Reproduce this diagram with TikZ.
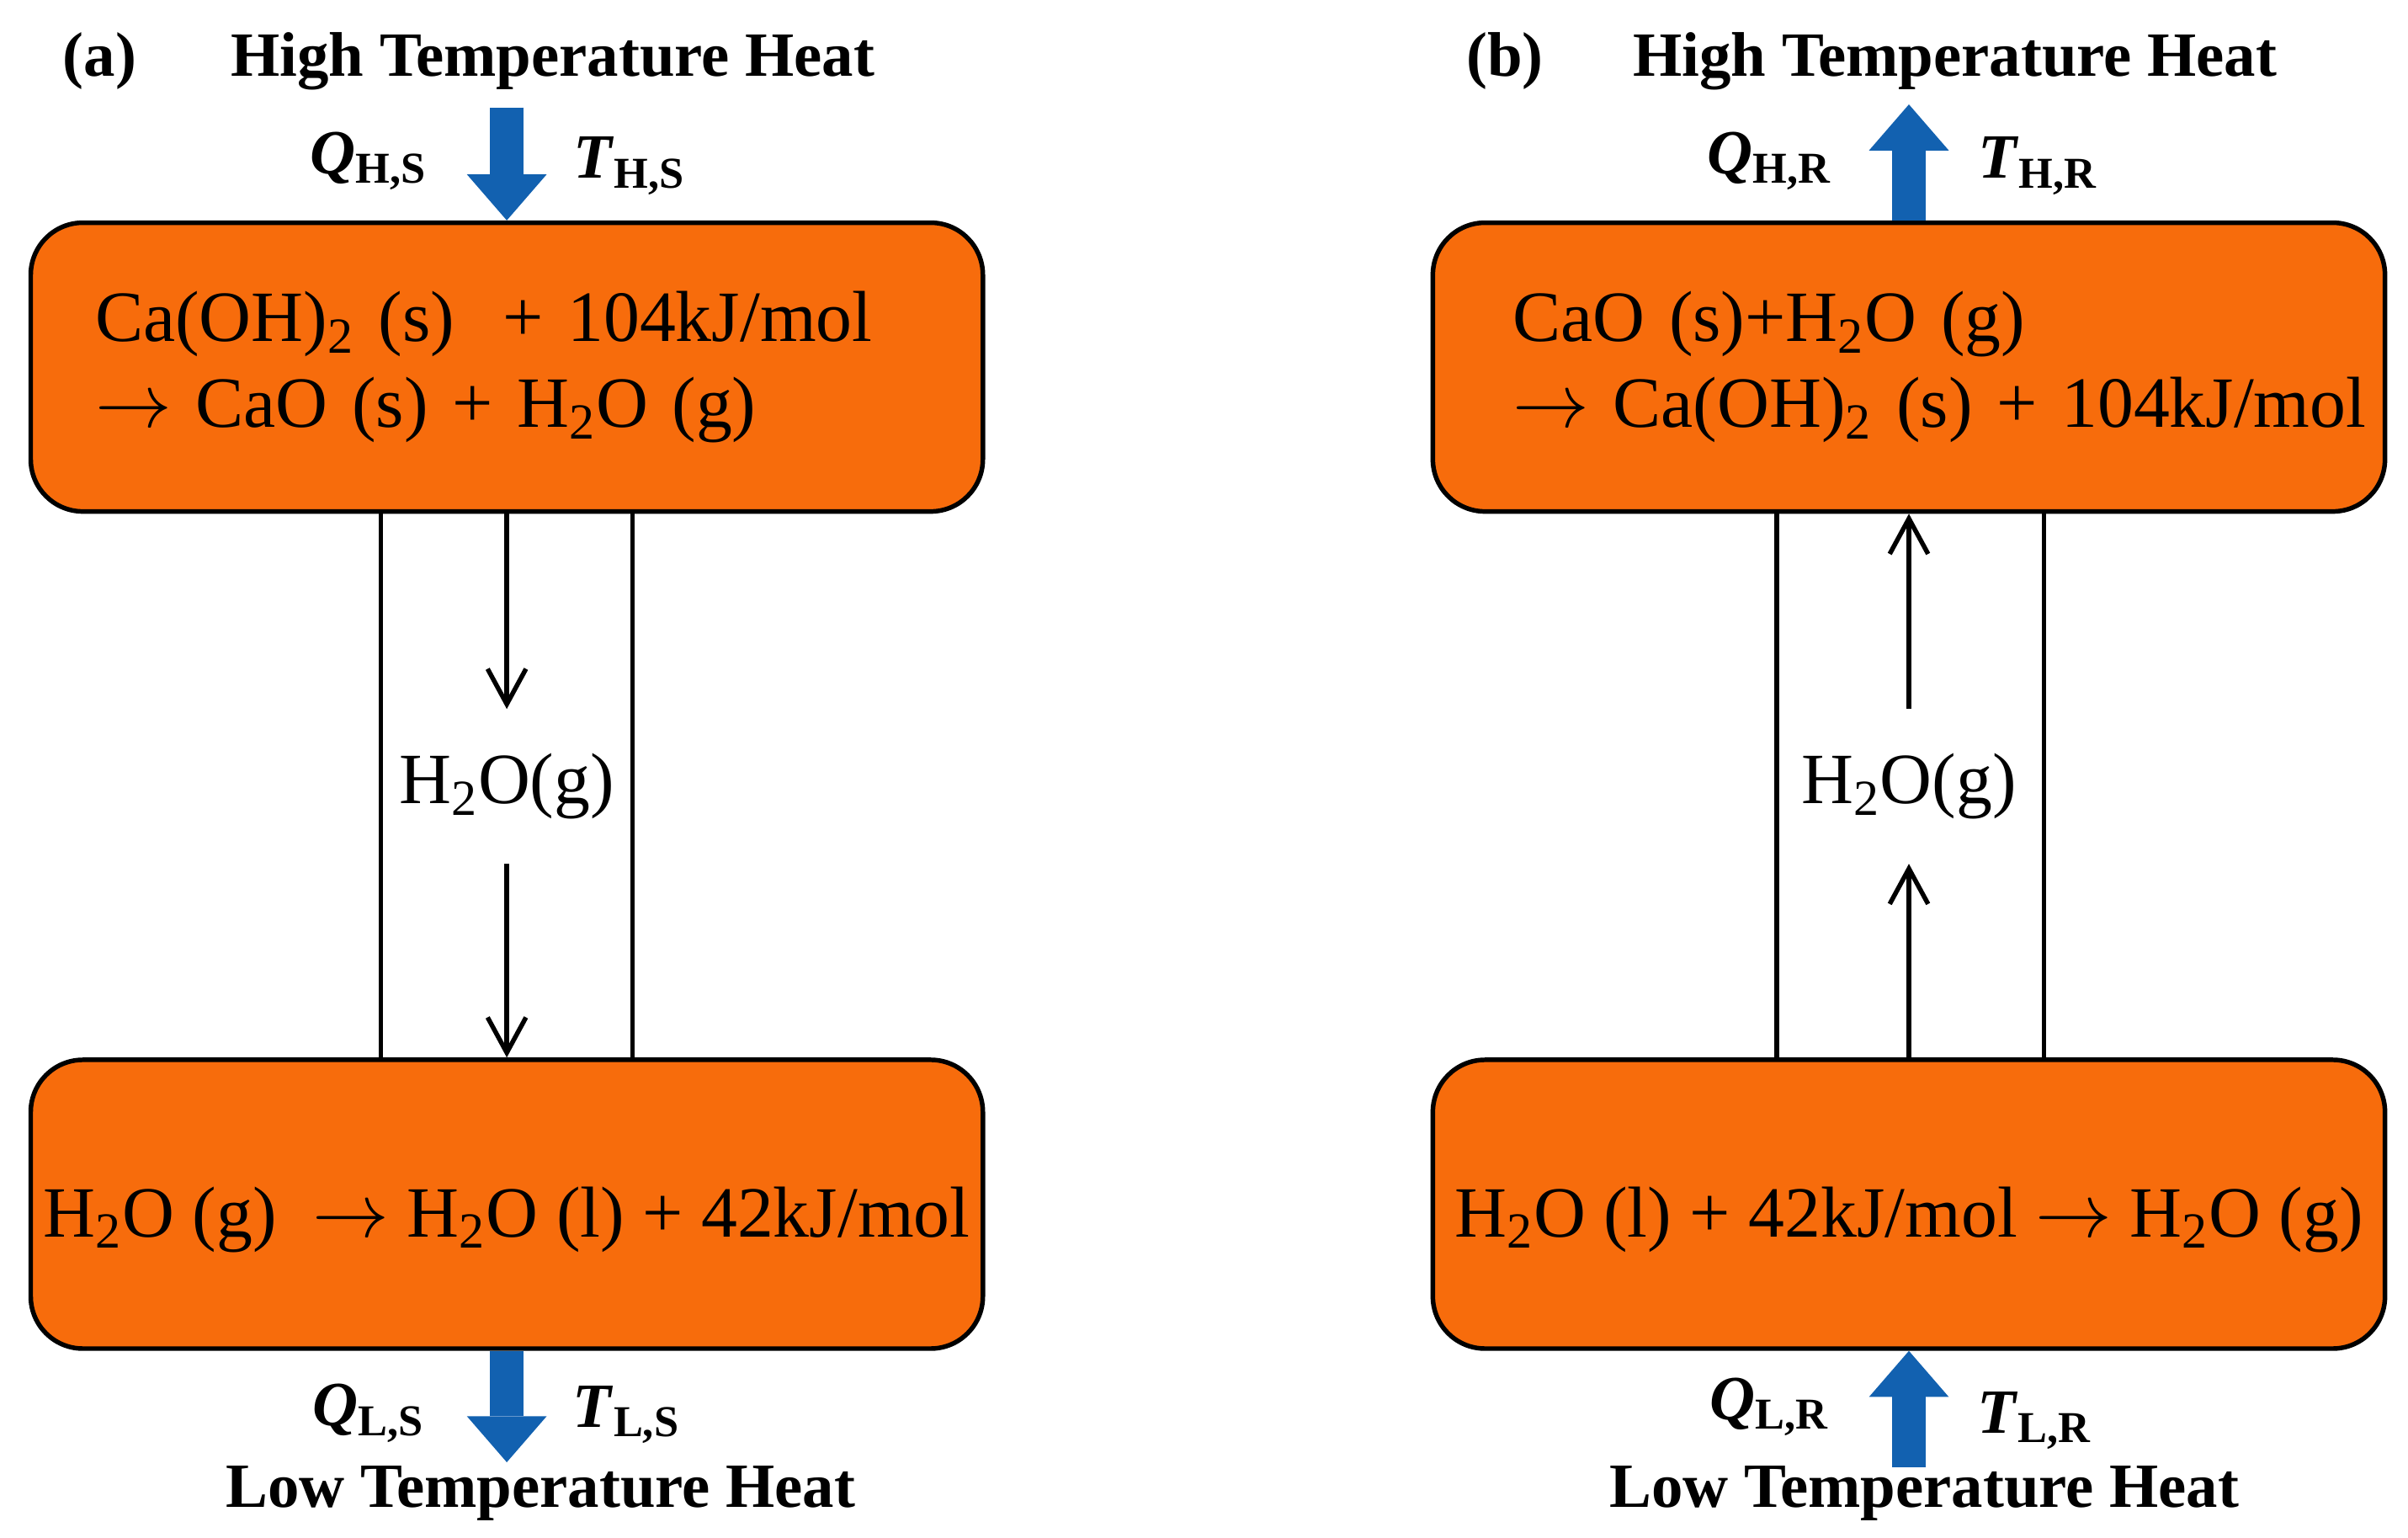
\documentclass[tikz,border=0pt]{standalone}
\usepackage{fontspec}
\setmainfont{Liberation Serif}
\usepackage{xcolor}
\usetikzlibrary{positioning, arrows.meta}
\definecolor{boxorange}{RGB}{247,108,12}
\definecolor{heatblue}{RGB}{18,97,176}
\newcommand{\yields}{$\rightarrow$}

\begin{document}
\begin{tikzpicture}[x=1pt, y=1pt, node distance=272.5pt,
    reactor/.style={rectangle, rounded corners=17pt, draw=black, line width=1.5pt, fill=boxorange,
        minimum width=310pt, minimum height=94pt, font=\fontsize{23.5}{28}\selectfont},
    vaplabel/.style={inner sep=0pt, minimum height=50pt, font=\fontsize{23.5}{26.5}\selectfont},
    heading/.style={inner sep=0pt, font=\fontsize{20.5}{24}\selectfont\bfseries},
    heatflow/.style={draw=heatblue, line width=11pt, -{Triangle[length=15pt, width=26pt, line width=0pt]}},
    vapour/.style={line width=1.5pt, -{Straight Barb[length=11.5pt, width=12.5pt]}},
    pipe/.style={line width=1.5pt}]
    \useasboundingbox (0,0) rectangle (784,500.5);

    % Reaction boxes
    \node[reactor, text width=268pt, inner xsep=21pt, align=left] (topL) at (165,381)
        {\mbox{Ca(OH)\textsubscript{2} (s)\ \ + 104kJ/mol}\\\mbox{\yields\ CaO (s) + H\textsubscript{2}O (g)}};
    \node[reactor, below of=topL, align=center, text height=24pt, text depth=2.8pt] (botL)
        {\mbox{H\textsubscript{2}O (g)\ \ \yields\ H\textsubscript{2}O (l) + 42kJ/mol}};
    \node[reactor, right of=topL, node distance=456.5pt, text width=258pt, inner xsep=26pt, align=left] (topR)
        {\mbox{CaO (s)+H\textsubscript{2}O (g)}\\\mbox{\yields\ Ca(OH)\textsubscript{2} (s) + 104kJ/mol}};
    \node[reactor, right of=botL, node distance=456.5pt, align=center, text height=24pt, text depth=2.8pt] (botR)
        {\mbox{H\textsubscript{2}O (l) + 42kJ/mol \yields\ H\textsubscript{2}O (g)}};

    % Pipes between the boxes
    \draw[pipe] ([xshift=-41pt]topL.south) -- ([xshift=-41pt]botL.north);
    \draw[pipe] ([xshift=41pt]topL.south) -- ([xshift=41pt]botL.north);
    \draw[pipe] ([xshift=-43pt]topR.south) -- ([xshift=-43pt]botR.north);
    \draw[pipe] ([xshift=44pt]topR.south) -- ([xshift=44pt]botR.north);

    % Vapour flow
    \node[vaplabel] (vapL) at (165,244.5) {H\textsubscript{2}O(g)};
    \node[vaplabel] (vapR) at (621.5,244.5) {H\textsubscript{2}O(g)};
    \draw[vapour] (topL) -- (vapL);
    \draw[vapour] (vapL) -- (botL);
    \draw[vapour] (botR) -- (vapR);
    \draw[vapour] (vapR) -- (topR);

    % Heat in and out
    \coordinate (hotL) at (165,465.5);
    \coordinate (coldL) at (165,24.5);
    \coordinate (hotR) at (621.5,466.5);
    \coordinate (coldR) at (621.5,23);
    \draw[heatflow] (hotL) -- (topL);
    \draw[heatflow] (botL) -- (coldL);
    \draw[heatflow] (topR) -- (hotR);
    \draw[heatflow] (coldR) -- (botR);

    % Labels
    \node[heading] (tagA) at (32.5,480.5) {(a)};
    \node[heading] (hiL) at (180,480.5) {High Temperature Heat};
    \node[heading] (loL) at (176,14.5) {Low Temperature Heat};
    \node[heading] (tagB) at (490,480.5) {(b)};
    \node[heading] (hiR) at (636.5,480.5) {High Temperature Heat};
    \node[heading] (loR) at (626.5,14.5) {Low Temperature Heat};

    \node[heading] (qHS) at (120,448) {\textit{Q}\textsubscript{H,S}};
    \node[heading] (tHS) at (205,446.5) {\textit{T}\textsubscript{H,S}};
    \node[heading] (qLS) at (120,40.5) {\textit{Q}\textsubscript{L,S}};
    \node[heading] (tLS) at (204,40) {\textit{T}\textsubscript{L,S}};
    \node[heading] (qHR) at (576,448) {\textit{Q}\textsubscript{H,R}};
    \node[heading] (tHR) at (663.5,446.5) {\textit{T}\textsubscript{H,R}};
    \node[heading] (qLR) at (576,42.5) {\textit{Q}\textsubscript{L,R}};
    \node[heading] (tLR) at (662.5,38) {\textit{T}\textsubscript{L,R}};
\end{tikzpicture}
\end{document}
